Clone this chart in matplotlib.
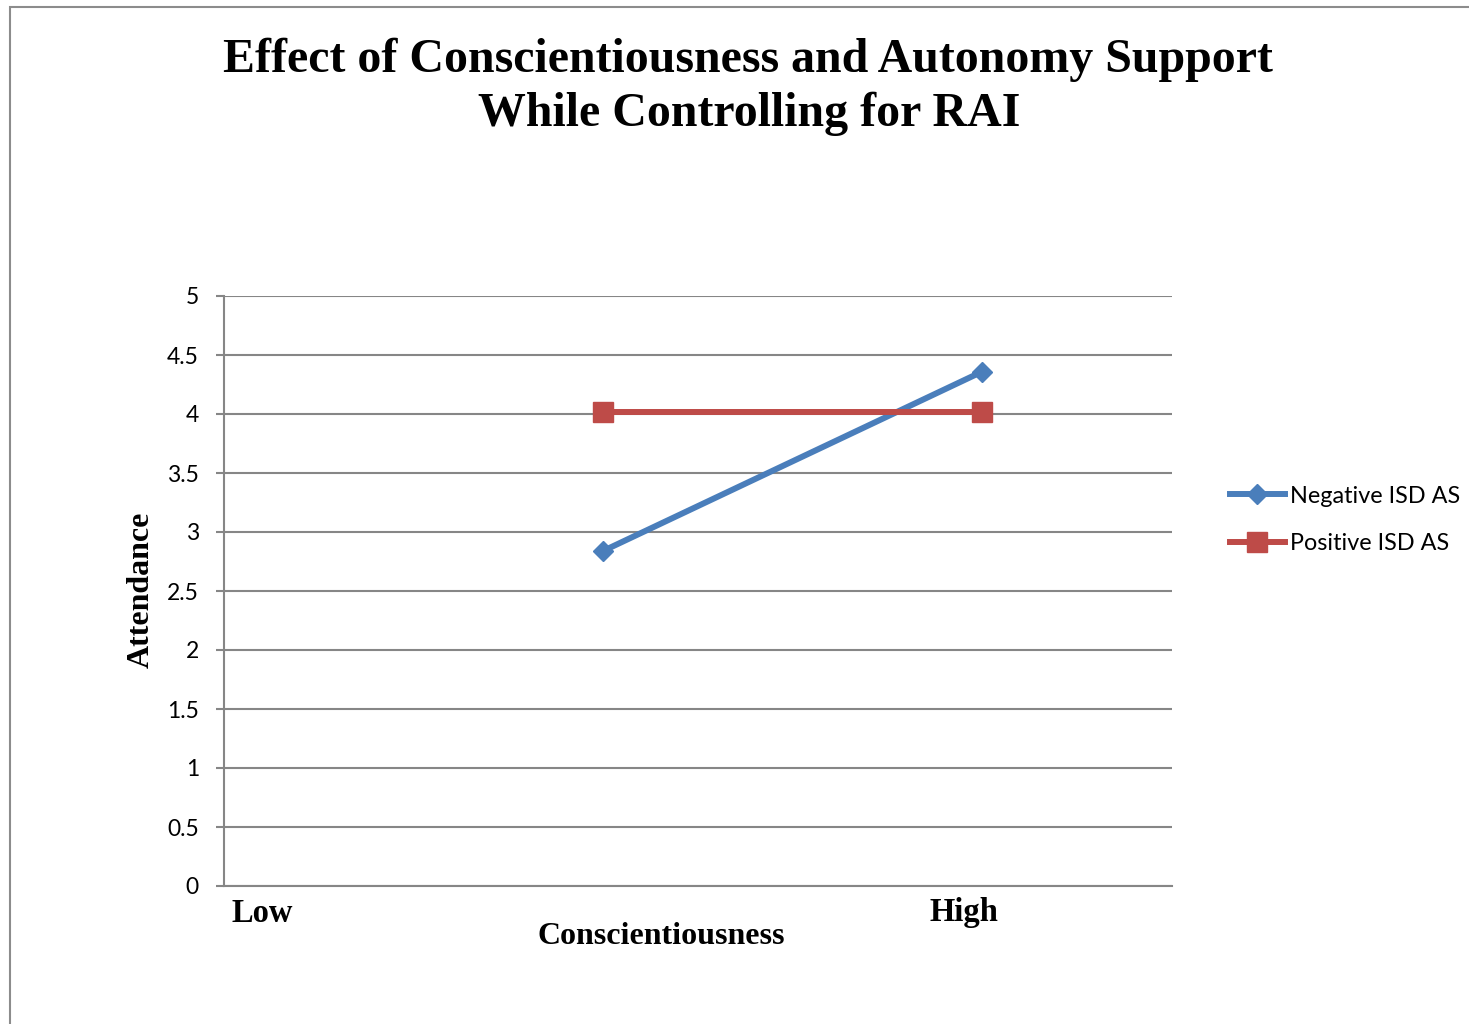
import matplotlib.pyplot as plt
from matplotlib.patches import Rectangle

# category positions on the x axis (Low ... High) and the two lines
x_pos = [2, 4]
negative_isd_as = [2.84, 4.36]
positive_isd_as = [4.02, 4.02]
y_ticks = [0, 0.5, 1, 1.5, 2, 2.5, 3, 3.5, 4, 4.5, 5]
y_labels = ['0', '0.5', '1', '1.5', '2', '2.5', '3', '3.5', '4', '4.5', '5']

W, H = 1469, 1024
fig = plt.figure(figsize=(W / 100, H / 100), dpi=100)
fig.patch.set_facecolor('white')

# chart area border
fig.patches.append(Rectangle((10 / W, -0.05), 1.1, 1 - 7 / H + 0.05,
                             transform=fig.transFigure, fill=False,
                             edgecolor='#8c8c8c', linewidth=1.5))

ax = fig.add_axes([224 / W, 1 - 886 / H, (1172 - 224) / W, (886 - 296) / H])

grid_col = '#868686'
ax.plot(x_pos, negative_isd_as, color='#4A7EBB', linewidth=4.3,
        marker='D', markersize=10, label='Negative ISD AS', zorder=3)
ax.plot(x_pos, positive_isd_as, color='#BE4B48', linewidth=4.3,
        marker='s', markersize=14, label='Positive ISD AS', zorder=3)

ax.set_xlim(0, 5)
ax.set_ylim(0, 5)
ax.set_yticks(y_ticks)
ax.set_yticklabels(y_labels, fontsize=16.5, family='Lato')
ax.set_xticks([])
ax.yaxis.grid(True, color=grid_col, linewidth=1.5)
ax.set_axisbelow(True)
ax.tick_params(axis='y', length=6, width=1.5, color=grid_col, pad=12)
for side in ['top', 'right']:
    ax.spines[side].set_visible(False)
for side in ['left', 'bottom']:
    ax.spines[side].set_color(grid_col)
    ax.spines[side].set_linewidth(1.5)

serif = 'Liberation Serif'
fig.text(748 / W, 1 - 72 / H, 'Effect of Conscientiousness and Autonomy Support',
         ha='center', va='baseline', fontsize=34.5, fontweight='bold', family=serif)
fig.text(749 / W, 1 - 126 / H, 'While Controlling for RAI',
         ha='center', va='baseline', fontsize=34.5, fontweight='bold', family=serif)

fig.text(141 / W, 1 - 590 / H, 'Attendance', rotation=90, ha='center', va='center',
         fontsize=23, fontweight='bold', family=serif)
fig.text(262 / W, 1 - 913 / H, 'Low', ha='center', va='center',
         fontsize=23.5, fontweight='bold', family=serif)
fig.text(964 / W, 1 - 913 / H, 'High', ha='center', va='center',
         fontsize=23.5, fontweight='bold', family=serif)
fig.text(661 / W, 1 - 937 / H, 'Conscientiousness', ha='center', va='center',
         fontsize=23, fontweight='bold', family=serif)

fig.legend(loc='center left', bbox_to_anchor=(1230 / W, 1 - 520 / H),
           frameon=False, prop={'family': 'Lato', 'size': 16.8},
           borderpad=0, borderaxespad=0,
           handlelength=2.35, handletextpad=0.2, labelspacing=1.15)

fig.savefig('out.png', dpi=100)
